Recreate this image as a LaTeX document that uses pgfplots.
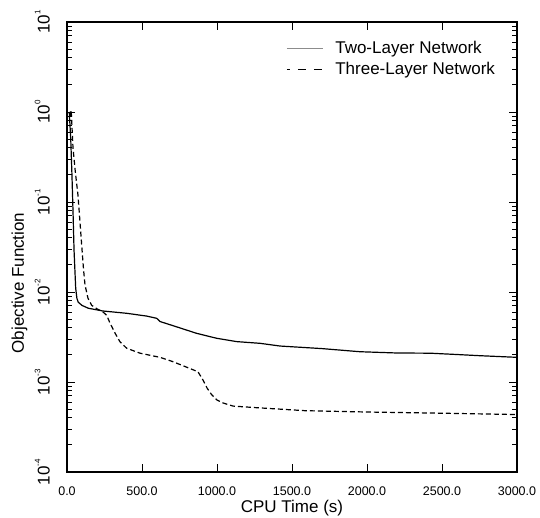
\documentclass[border=0pt]{standalone}
\usepackage{fontspec}
\setmainfont{Liberation Sans}
\usepackage{pgfplots}
\pgfplotsset{compat=1.18}
\begin{document}
\begin{tikzpicture}
\begin{semilogyaxis}[
  scale only axis, width=450pt, height=450pt,
  xmin=0, xmax=3000, ymin=1e-4, ymax=10,
  xtick={0,500,1000,1500,2000,2500,3000},
  xticklabels={0.0,500.0,1000.0,1500.0,2000.0,2500.0,3000.0},
  ytick={1e-4,1e-3,1e-2,1e-1,1,10},
  minor ytick={2e-4,3e-4,4e-4,5e-4,6e-4,7e-4,8e-4,9e-4,2e-3,3e-3,4e-3,5e-3,6e-3,7e-3,8e-3,9e-3,2e-2,3e-2,4e-2,5e-2,6e-2,7e-2,8e-2,9e-2,0.2,0.3,0.4,0.5,0.6,0.7,0.8,0.9,2,3,4,5,6,7,8,9},
  yticklabels={10\raisebox{0.55em}{\fontsize{8}{8}\selectfont -4},10\raisebox{0.55em}{\fontsize{8}{8}\selectfont -3},10\raisebox{0.55em}{\fontsize{8}{8}\selectfont -2},10\raisebox{0.55em}{\fontsize{8}{8}\selectfont -1},10\raisebox{0.55em}{\fontsize{8}{8}\selectfont 0},10\raisebox{0.55em}{\fontsize{8}{8}\selectfont 1}},
  tick align=inside,
  major tick length=8pt, minor tick length=5pt,
  every tick/.style={black, line width=0.9pt},
  axis line style={line width=1.2pt},
  xticklabel style={font=\fontsize{12.5}{14}\selectfont, inner sep=0pt, anchor=north},
  xticklabel shift=15pt,
  yticklabel style={font=\fontsize{17}{18}\selectfont, inner sep=0pt, rotate=90, anchor=south},
  yticklabel shift=17pt,
  xlabel={CPU Time (s)},
  ylabel={Objective Function},
  xlabel style={font=\fontsize{17}{20}\selectfont, inner sep=0pt, anchor=base, at={([yshift=-40pt]axis description cs:0.5,0)}},
  ylabel style={font=\fontsize{17}{20}\selectfont, inner sep=0pt, rotate=0, anchor=base, at={([xshift=-43pt]axis description cs:0,0.42)}},
  legend style={draw=none, fill=none, at={(rel axis cs:0.48,0.967)}, anchor=north west,
    font=\fontsize{17}{20}\selectfont, row sep=2pt,
    nodes={text height=12pt, text depth=3pt, inner sep=2pt}},
  legend cell align=left,
  legend image code/.code={\draw[#1] (0pt,0pt) -- (36pt,0pt);},
  /tikz/every even column/.append style={column sep=0pt},
  /tikz/every odd column/.append style={column sep=10pt},
]
\addlegendimage{black!45, line width=0.9pt}
\addlegendentry{Two-Layer Network}
\addlegendimage{black, line width=1.1pt, dash pattern=on 8pt off 8pt, dash phase=5pt}
\addlegendentry{Three-Layer Network}
\addplot[forget plot, black, line width=1.2pt] coordinates {
(15,1.0)(25,0.5)(33,0.2)(40,0.08)(47,0.029)(53,0.017)(58,0.011)(66,0.0085)(75,0.0077)(100,0.0071)(142,0.0066)(240,0.00615)(398,0.0058)(531,0.0054)(598,0.0051)(620,0.0047)(731,0.0041)(865,0.00347)(998,0.00306)(1131,0.00281)(1287,0.00269)(1420,0.00251)(1700,0.00235)(1953,0.00217)(2200,0.0021)(2420,0.00209)(2600,0.00202)(2753,0.00196)(3000,0.00188)
};
\addplot[forget plot, black, line width=1.2pt, dash pattern=on 5pt off 3pt] coordinates {
(20,0.9)(28,1.05)(33,0.7)(40,0.4)(55,0.22)(73,0.12)(85,0.065)(98,0.033)(110,0.018)(120,0.012)(140,0.0085)(165,0.0071)(200,0.0065)(240,0.006)(265,0.0055)(287,0.0045)(320,0.0035)(353,0.0028)(398,0.00237)(487,0.00209)(620,0.00188)(707,0.00168)(798,0.00146)(873,0.0013)(907,0.00105)(935,0.00085)(965,0.00072)(1000,0.00063)(1040,0.000585)(1107,0.00054)(1265,0.000518)(1587,0.00048)(2000,0.000464)(2500,0.00045)(3000,0.000435)
};
\end{semilogyaxis}
\pgfresetboundingbox
\path ([shift={(-67pt,-46pt)}]current axis.south west) rectangle ++(540pt,518pt);
\end{tikzpicture}
\end{document}
